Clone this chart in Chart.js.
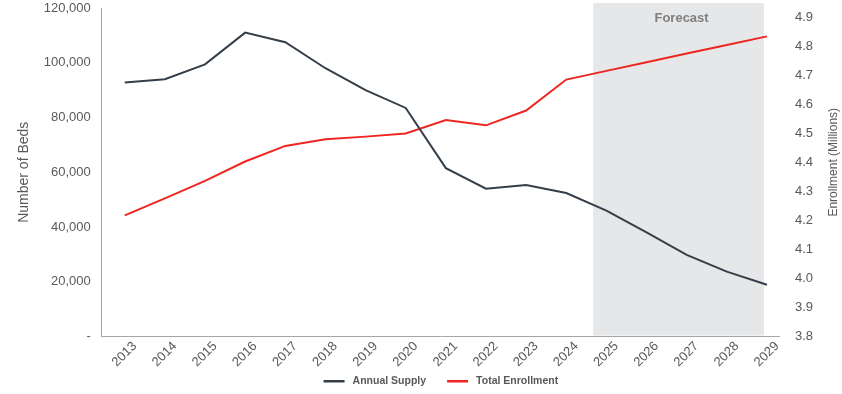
<!DOCTYPE html>
<html>
<head>
<meta charset="utf-8">
<script src="https://cdn.jsdelivr.net/npm/chart.js@4.4.1/dist/chart.umd.min.js"></script>
<style>
  html, body { margin: 0; padding: 0; background: #fff; }
  #wrap { width: 842px; height: 394px; }
</style>
</head>
<body>
<div id="wrap"><canvas id="bedsChart" width="842" height="394"></canvas></div>
<script>
const years = [2013, 2014, 2015, 2016, 2017, 2018, 2019, 2020, 2021,
  2022, 2023, 2024, 2025, 2026, 2027, 2028, 2029];
const annualSupply = [92800, 94000, 99400, 111000, 107500, 98000, 90000, 83500, 61500,
  54000, 55300, 52400, 46000, 38000, 29800, 23700, 18900];
const totalEnrollment = [4.218, 4.277, 4.337, 4.404, 4.458, 4.481, 4.490, 4.501, 4.547,
  4.529, 4.580, 4.687, 4.717, 4.747, 4.777, 4.806, 4.836];
const forecastFrom = 2025;

const fontFamily = 'Liberation Sans, Arial, sans-serif';
const tickColor = '#595959';
const tickFont = { family: fontFamily, size: 13 };

// tick padding is added to the top padding of y axes, keep the plot top tight
const tightTop = scale => { scale.paddingTop = 8; scale.paddingBottom = 0; };

// grey forecast band, "Forecast" text, right axis title (bottom to top) and legend
const extras = {
  id: 'extras',
  beforeDatasetsDraw(chart) {
    const { ctx, chartArea, scales } = chart;
    const x = scales.x;
    const left = x.getPixelForValue(forecastFrom - 0.33);
    const right = x.getPixelForValue(years[years.length - 1] - 0.075);
    ctx.save();
    ctx.fillStyle = '#e6e7e9';
    ctx.fillRect(left, chartArea.top - 5, right - left, chartArea.bottom - chartArea.top + 4);
    ctx.fillStyle = '#7f7f7f';
    ctx.font = 'bold 13px ' + fontFamily;
    ctx.textAlign = 'center';
    ctx.textBaseline = 'middle';
    ctx.fillText('Forecast', (left + right) / 2 + 3, chartArea.top + 10);
    ctx.restore();
  },
  afterDraw(chart) {
    const { ctx, chartArea } = chart;
    ctx.save();
    ctx.translate(chart.width - 8, (chartArea.top + chartArea.bottom) / 2 - 10);
    ctx.rotate(-Math.PI / 2);
    ctx.fillStyle = tickColor;
    ctx.font = '12px ' + fontFamily;
    ctx.textAlign = 'center';
    ctx.textBaseline = 'middle';
    ctx.fillText('Enrollment (Millions)', 0, 0);
    ctx.restore();

    // legend
    ctx.save();
    ctx.font = 'bold 10.5px ' + fontFamily;
    ctx.textBaseline = 'middle';
    const items = chart.data.datasets.map(ds => ({ text: ds.label, color: ds.borderColor }));
    const sw = 21, gapText = 8, gapItem = 21;
    let total = 0;
    items.forEach((it, i) => {
      it.w = ctx.measureText(it.text).width;
      total += sw + gapText + it.w + (i ? gapItem : 0);
    });
    let cx = (chartArea.left + chartArea.right) / 2 - total / 2;
    const ly = chart.height - 13;
    items.forEach(it => {
      ctx.fillStyle = it.color;
      ctx.fillRect(cx, ly - 1, sw, 2.5);
      ctx.fillStyle = tickColor;
      ctx.fillText(it.text, cx + sw + gapText, ly);
      cx += sw + gapText + it.w + gapItem;
    });
    ctx.restore();
  }
};

const ctx = document.getElementById('bedsChart').getContext('2d');
const bedsChart = new Chart(ctx, {
  type: 'line',
  data: {
    datasets: [{
      label: 'Annual Supply',
      data: years.map((y, i) => ({ x: y, y: annualSupply[i] })),
      yAxisID: 'y',
      borderColor: '#353f4a',
      backgroundColor: '#353f4a',
      borderWidth: 2,
      pointRadius: 0,
      tension: 0
    }, {
      label: 'Total Enrollment',
      data: years.map((y, i) => ({ x: y, y: totalEnrollment[i] })),
      yAxisID: 'y2',
      borderColor: '#ee2622',
      backgroundColor: '#ee2622',
      borderWidth: 2,
      pointRadius: 0,
      tension: 0
    }]
  },
  options: {
    responsive: false,
    animation: false,
    layout: { padding: { top: 0, right: 14, left: 16, bottom: 22 } },
    plugins: {
      legend: { display: false },
      tooltip: { enabled: false }
    },
    scales: {
      x: {
        type: 'linear',
        min: 2012.428,
        max: 2029.323,
        grid: { display: false, drawTicks: false },
        border: { display: true, color: '#a6a6a6', width: 1 },
        ticks: {
          stepSize: 1,
          includeBounds: false,
          color: tickColor,
          font: tickFont,
          minRotation: 45,
          maxRotation: 45,
          padding: 2,
          labelOffset: 10,
          callback: v => String(v)
        }
      },
      y: {
        position: 'left',
        min: 0,
        max: 120000,
        afterFit: tightTop,
        grid: { display: false, drawTicks: false },
        border: { display: true, color: '#a6a6a6', width: 1 },
        title: { display: true, text: 'Number of Beds', color: tickColor, font: { family: fontFamily, size: 14 }, padding: 0 },
        ticks: {
          stepSize: 20000,
          padding: 11,
          color: tickColor,
          font: tickFont,
          callback: v => v === 0 ? '-' : v.toLocaleString('en-US')
        }
      },
      y2: {
        position: 'right',
        min: 3.8,
        max: 4.934,
        afterFit: tightTop,
        grid: { display: false, drawTicks: false },
        border: { display: false },
        ticks: {
          stepSize: 0.1,
          includeBounds: false,
          padding: 15,
          color: tickColor,
          font: tickFont,
          callback: v => v.toFixed(1)
        }
      }
    }
  },
  plugins: [extras]
});
</script>
</body>
</html>
